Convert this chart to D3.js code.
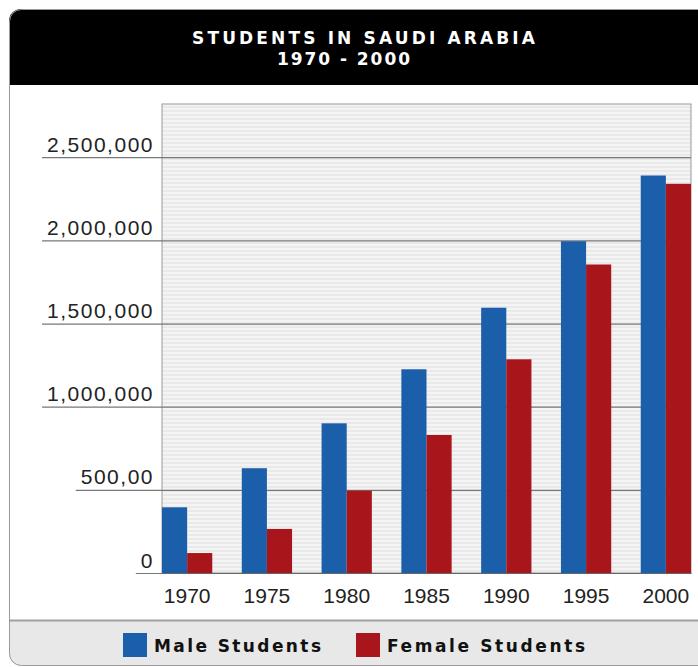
<!DOCTYPE html>
<meta charset="utf-8">
<title>Students in Saudi Arabia 1970 - 2000</title>
<style>
  html, body { margin: 0; padding: 0; background: #fff; }
  svg { display: block; font-family: 'DejaVu Sans', sans-serif; }
  .tick text { font-size: 21px; fill: #222; }
  .y .tick text { letter-spacing: 1.5px; }
  .title { font-weight: bold; fill: #fff; font-size: 17px; }
  .legend text { font-weight: bold; font-size: 17px; fill: #111; }
</style>
<svg width="698" height="667"></svg>
<script src="https://cdn.jsdelivr.net/npm/d3@7"></script>
<script>
  'use strict'
  const years = ['1970', '1975', '1980', '1985', '1990', '1995', '2000']
  const male = [395000, 630000, 900000, 1225000, 1595000, 1995000, 2390000]
  const female = [120000, 265000, 495000, 830000, 1285000, 1855000, 2340000]
  const yTicks = [0, 500000, 1000000, 1500000, 2000000, 2500000]
  const yTickLabels = ['0', '500,00', '1,000,000', '1,500,000', '2,000,000', '2,500,000']
  const series = ['Male Students', 'Female Students']
  const colors = ['#1b5ea9', '#a8151a']

  let svg = d3.select('svg')
  let defs = svg.append('defs')

  // rounded outer frame
  defs.append('clipPath').attr('id', 'frame')
    .append('rect').attr('x', 9).attr('y', 9).attr('width', 720).attr('height', 657).attr('rx', 12)
  let pat = defs.append('pattern').attr('id', 'stripes')
    .attr('patternUnits', 'userSpaceOnUse').attr('width', 4).attr('height', 4)
  pat.append('rect').attr('width', 4).attr('height', 4).attr('fill', '#e9e9e9')
  pat.append('rect').attr('width', 4).attr('height', 2).attr('fill', '#f4f4f4')

  let frame = svg.append('g').attr('clip-path', 'url(#frame)')
  frame.append('rect').attr('x', 9).attr('y', 9).attr('width', 720).attr('height', 657).attr('fill', '#fff')
  frame.append('rect').attr('x', 9).attr('y', 9).attr('width', 720).attr('height', 76).attr('fill', '#000')
  frame.append('rect').attr('x', 9).attr('y', 620).attr('width', 720).attr('height', 47).attr('fill', '#e8e8e8')
  frame.append('line').attr('x1', 9).attr('x2', 720).attr('y1', 620.5).attr('y2', 620.5)
    .attr('stroke', '#a0a0a0').attr('stroke-width', 2)
  svg.append('rect').attr('x', 9.5).attr('y', 9.5).attr('width', 720).attr('height', 656).attr('rx', 12)
    .attr('fill', 'none').attr('stroke', '#9a9a9a')

  // title
  svg.append('text').attr('class', 'title').attr('x', 192).attr('y', 44)
    .attr('textLength', 343).attr('lengthAdjust', 'spacing').text('STUDENTS IN SAUDI ARABIA')
  svg.append('text').attr('class', 'title').attr('x', 277).attr('y', 65)
    .attr('textLength', 133).attr('lengthAdjust', 'spacing').text('1970 - 2000')

  // scales
  let x = d3.scaleBand().domain(years).range([162, 691]).paddingInner(0.37).paddingOuter(0)
  let xs = d3.scaleBand().domain(series).range([0, x.bandwidth()])
  let y = d3.scaleLinear().domain([0, 2820000]).range([573, 104])

  svg.append('rect').attr('x', 162).attr('y', y.range()[1])
    .attr('width', 529).attr('height', y(0) - y.range()[1])
    .attr('fill', 'url(#stripes)').attr('stroke', '#999')

  // y axis: labels sit on an underline that runs into the grid
  let yAxis = svg.append('g').attr('class', 'y').attr('transform', 'translate(162,0)')
    .call(d3.axisLeft(y).tickValues(yTicks).tickSize(0).tickPadding(8)
      .tickFormat((d, i) => yTickLabels[i]))
  yAxis.select('.domain').remove()
  yAxis.selectAll('.tick text').attr('dy', -6)
  yAxis.selectAll('.tick').each(function () {
    let b = this.querySelector('text').getBBox()
    d3.select(this).append('line').attr('x1', b.x - 5).attr('x2', 529)
      .attr('stroke', '#777').attr('stroke-width', 1.2)
  })

  // bars
  let groups = svg.append('g').selectAll('g').data(years).join('g')
    .attr('transform', d => `translate(${x(d)},0)`)
  groups.selectAll('rect')
    .data((d, i) => [male[i], female[i]].map((v, k) => ({ k, v })))
    .join('rect')
    .attr('x', d => xs(series[d.k]))
    .attr('width', xs.bandwidth())
    .attr('y', d => y(d.v))
    .attr('height', d => y(0) - y(d.v))
    .attr('fill', d => colors[d.k])

  // x axis
  let xAxis = svg.append('g').attr('transform', `translate(0,${y(0)})`)
    .call(d3.axisBottom(x).tickSize(0).tickPadding(10))
  xAxis.select('.domain').attr('stroke', '#666').attr('stroke-width', 1.2)
  xAxis.selectAll('.tick text').attr('dy', '0.95em')

  // legend
  const legendX = [123, 356]
  const legendW = [167, 198]
  let legend = svg.append('g').attr('class', 'legend').selectAll('g').data(series).join('g')
    .attr('transform', (d, i) => `translate(${legendX[i]},633)`)
  legend.append('rect').attr('width', 24).attr('height', 24).attr('fill', (d, i) => colors[i])
  legend.append('text').attr('x', 31).attr('y', 19)
    .attr('textLength', (d, i) => legendW[i]).attr('lengthAdjust', 'spacing')
    .text(d => d)
</script>
